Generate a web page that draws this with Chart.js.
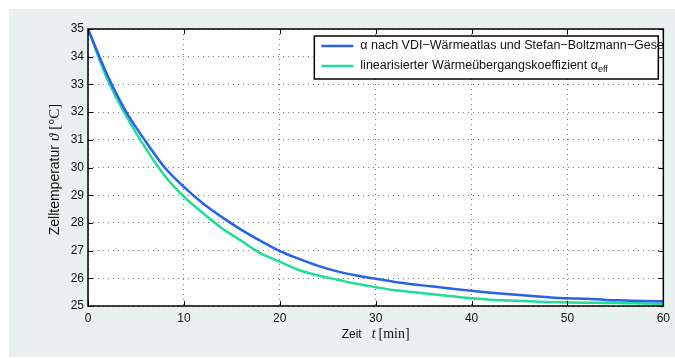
<!DOCTYPE html>
<html>
<head>
<meta charset="utf-8">
<script src="https://cdn.jsdelivr.net/npm/chart.js@4"></script>
<style>
  html, body { margin: 0; padding: 0; background: #fff; }
  #wrap { width: 675px; height: 358px; }
</style>
</head>
<body>
<div id="wrap"><canvas id="coolingChart" width="675" height="358"></canvas></div>
<script>
// time in minutes
const zeit = [0, 2, 4, 6, 8, 10, 12, 14, 16, 18, 20, 22, 24, 26, 28, 30,
              32, 34, 36, 38, 40, 42, 44, 46, 48, 50, 52, 54, 56, 58, 60];

// alpha nach VDI-Waermeatlas + Stefan-Boltzmann (blue)
const tempVDI = [35.0, 33.35, 32.0, 30.95, 30.0, 29.3, 28.7, 28.2, 27.75, 27.35, 26.98,
                 26.7, 26.45, 26.25, 26.1, 25.98, 25.87, 25.78, 25.7, 25.62, 25.55,
                 25.48, 25.42, 25.37, 25.32, 25.28, 25.26, 25.22, 25.2, 25.18, 25.17];

// linearisierter Waermeuebergangskoeffizient (green)
const tempLin = [35.0, 33.2, 31.85, 30.7, 29.7, 28.95, 28.35, 27.8, 27.35, 26.9, 26.6,
                 26.3, 26.1, 25.95, 25.8, 25.68, 25.57, 25.5, 25.42, 25.35, 25.28,
                 25.23, 25.2, 25.17, 25.14, 25.13, 25.12, 25.11, 25.1, 25.09, 25.08];

const xTicks = [0, 10, 20, 30, 40, 50, 60];
const yTicks = [25, 26, 27, 28, 29, 30, 31, 32, 33, 34, 35];

const labelVDI = 'α nach VDI−Wärmeatlas und Stefan−Boltzmann−Gesetz';
const labelLin = 'linearisierter Wärmeübergangskoeffizient α';

const blue = 'rgb(38, 98, 238)';
const green = 'rgb(28, 222, 150)';
const sans = '"Liberation Sans", Arial, Helvetica, sans-serif';
const serif = '"Liberation Serif", "Times New Roman", serif';

const toPoints = (ys) => zeit.map((t, i) => ({ x: t, y: ys[i] }));

// grey panel behind the figure, white axes area
const panelPlugin = {
    id: 'panel',
    beforeDraw(chart) {
        const { ctx, chartArea: a } = chart;
        ctx.save();
        ctx.fillStyle = 'rgb(233, 241, 240)';
        ctx.fillRect(9, 9, chart.width - 9, chart.height - 10);
        ctx.fillStyle = '#fff';
        ctx.fillRect(a.left, a.top, a.right - a.left, a.bottom - a.top);
        ctx.restore();
    }
};

// draws a run of text pieces [text, font, gapAfter] centred on cx
function drawParts(ctx, parts, cx, y) {
    let total = 0;
    parts.forEach(p => { ctx.font = p[1]; total += ctx.measureText(p[0]).width + p[2]; });
    let x = cx - total / 2;
    parts.forEach(p => {
        ctx.font = p[1];
        ctx.fillText(p[0], x, y);
        x += ctx.measureText(p[0]).width + p[2];
    });
}

// matlab style box with inward ticks, axis titles and legend
const boxPlugin = {
    id: 'matlabBox',
    afterDraw(chart) {
        const { ctx, chartArea: a, scales } = chart;
        const tl = 5;
        ctx.save();
        ctx.strokeStyle = '#000';
        ctx.lineWidth = 1;
        ctx.beginPath();
        xTicks.forEach(v => {
            const px = Math.round(scales.x.getPixelForValue(v)) + 0.5;
            ctx.moveTo(px, a.bottom); ctx.lineTo(px, a.bottom - tl);
            ctx.moveTo(px, a.top); ctx.lineTo(px, a.top + tl);
        });
        yTicks.forEach(v => {
            const py = Math.round(scales.y.getPixelForValue(v)) + 0.5;
            ctx.moveTo(a.left, py); ctx.lineTo(a.left + tl, py);
            ctx.moveTo(a.right, py); ctx.lineTo(a.right - tl, py);
        });
        ctx.stroke();
        ctx.lineWidth = 1.5;
        ctx.strokeRect(a.left, a.top, a.right - a.left, a.bottom - a.top);

        // x axis title: Zeit t [min]
        ctx.fillStyle = '#111';
        ctx.textBaseline = 'alphabetic';
        drawParts(ctx, [
            ['Zeit', '12px ' + sans, 10],
            ['t', 'italic 14px ' + serif, 3],
            ['[min]', '14px ' + serif, 0]
        ], (a.left + a.right) / 2, a.bottom + 32);

        // y axis title: Zelltemperatur theta [°C]
        ctx.save();
        ctx.translate(a.left - 29, (a.top + a.bottom) / 2 + 2);
        ctx.rotate(-Math.PI / 2);
        drawParts(ctx, [
            ['Zelltemperatur', '14px ' + sans, 4],
            ['ϑ', 'italic 15px ' + serif, 4],
            ['[°C]', '15px ' + serif, 0]
        ], 0, 0);
        ctx.restore();
        ctx.restore();

        // legend box inside the axes, text clipped at the axes edge
        ctx.save();
        ctx.beginPath();
        ctx.rect(a.left, a.top, a.right - a.left, a.bottom - a.top);
        ctx.clip();
        const bx = a.right - 349, by = a.top + 7, bw = 344, bh = 43;
        ctx.fillStyle = '#fff';
        ctx.fillRect(bx, by, bw, bh);
        const rows = [[labelVDI, blue, by + 10], [labelLin, green, by + 30]];
        rows.forEach((r, i) => {
            ctx.strokeStyle = r[1];
            ctx.lineWidth = 2.5;
            ctx.beginPath();
            ctx.moveTo(bx + 7, r[2]); ctx.lineTo(bx + 39, r[2]);
            ctx.stroke();
            ctx.fillStyle = '#111';
            ctx.font = '12.5px ' + sans;
            ctx.textBaseline = 'middle';
            ctx.fillText(r[0], bx + 46, r[2]);
            if (i === 1) {
                const w = ctx.measureText(r[0]).width;
                ctx.font = '9px ' + sans;
                ctx.fillText('eff', bx + 46 + w, r[2] + 4);
            }
        });
        ctx.strokeStyle = '#000';
        ctx.lineWidth = 1.5;
        ctx.strokeRect(bx, by, bw, bh);
        ctx.restore();
    }
};

const ctx = document.getElementById('coolingChart').getContext('2d');

const data = {
    datasets: [{
        label: labelVDI,
        data: toPoints(tempVDI),
        borderColor: blue,
        borderWidth: 2.5,
        pointRadius: 0,
        cubicInterpolationMode: 'monotone'
    }, {
        label: labelLin + 'eff',
        data: toPoints(tempLin),
        borderColor: green,
        borderWidth: 2.5,
        pointRadius: 0,
        cubicInterpolationMode: 'monotone'
    }]
};

const config = {
    type: 'line',
    data: data,
    options: {
        responsive: false,
        animation: false,
        layout: { padding: { top: 29, right: 10, left: 0, bottom: 0 } },
        plugins: {
            legend: { display: false },
            tooltip: { enabled: false }
        },
        scales: {
            x: {
                type: 'linear',
                min: 0,
                max: 60,
                afterBuildTicks: s => { s.ticks = xTicks.map(v => ({ value: v })); },
                afterFit: s => { s.height = 52; },
                grid: { color: 'rgba(60,60,60,0.7)', lineWidth: 1, drawTicks: false },
                border: { display: false, dash: [1, 4] },
                ticks: { padding: 5, color: '#111', font: { family: sans, size: 12 }, maxRotation: 0 }
            },
            y: {
                min: 25,
                max: 35,
                afterBuildTicks: s => { s.ticks = yTicks.map(v => ({ value: v })); },
                afterFit: s => { s.width = 88; },
                grid: { color: 'rgba(60,60,60,0.7)', lineWidth: 1, drawTicks: false },
                border: { display: false, dash: [1, 4] },
                ticks: { padding: 4, color: '#111', font: { family: sans, size: 12 } }
            }
        }
    },
    plugins: [panelPlugin, boxPlugin]
};

const coolingChart = new Chart(ctx, config);
</script>
</body>
</html>
